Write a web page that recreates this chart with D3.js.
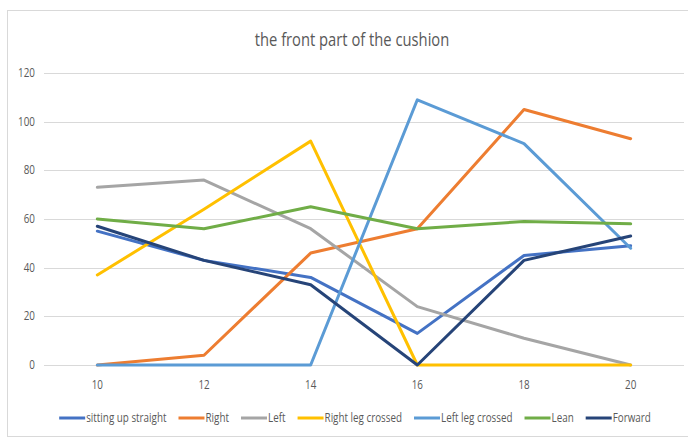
<!DOCTYPE html>
<html>
<head>
<meta charset="utf-8">
<script src="https://cdn.jsdelivr.net/npm/d3@7"></script>
<style>
  body { margin: 0; background: #fff; }
  svg text { font-family: "Open Sans", sans-serif; fill: #595959; }
</style>
</head>
<body>
<div id="chart"></div>
<script>
const categories = ['10', '12', '14', '16', '18', '20']
const yTicks = [0, 20, 40, 60, 80, 100, 120]
const seriesNames = ['sitting up straight', 'Right', 'Left', 'Right leg crossed', 'Left leg crossed', 'Lean', 'Forward']
const sittingUpStraight = [55, 43, 36, 13, 45, 49]
const right = [0, 4, 46, 56, 105, 93]
const left = [73, 76, 56, 24, 11, 0]
const rightLegCrossed = [37, 64, 92, 0, 0, 0]
const leftLegCrossed = [0, 0, 0, 109, 91, 48]
const lean = [60, 56, 65, 56, 59, 58]
const forward = [57, 43, 33, 0, 43, 53]
const colors = ['#4472c4', '#ed7d31', '#a5a5a5', '#ffc000', '#5b9bd5', '#70ad47', '#264478']

const width = 688
const height = 441
const squeeze = 0.82 // narrow the font to look like Calibri
const series = [sittingUpStraight, right, left, rightLegCrossed, leftLegCrossed, lean, forward]
  .map((values, i) => ({ name: seriesNames[i], values, color: colors[i] }))

const svg = d3.select('#chart')
  .append('svg')
  .attr('width', width)
  .attr('height', height)

// chart frame
svg.append('rect')
  .attr('x', 7.5).attr('y', 10.5)
  .attr('width', 700).attr('height', 426)
  .attr('fill', '#fff')
  .attr('stroke', '#d9d9d9')

svg.append('text')
  .attr('transform', `translate(352,46) scale(${squeeze},1)`)
  .attr('text-anchor', 'middle')
  .style('font-size', '18px')
  .text('the front part of the cushion')

const x = d3.scaleBand().domain(categories).range([44, 684])
const y = d3.scaleLinear().domain([0, 120]).range([365, 73])

// gridlines
svg.append('g')
  .selectAll('line')
  .data(yTicks)
  .enter()
  .append('line')
  .attr('x1', 44).attr('x2', 684)
  .attr('y1', d => Math.round(y(d)) + 0.5)
  .attr('y2', d => Math.round(y(d)) + 0.5)
  .attr('stroke', '#d9d9d9')

svg.append('g')
  .selectAll('text')
  .data(yTicks)
  .enter()
  .append('text')
  .attr('transform', d => `translate(35,${y(d) + 4}) scale(${squeeze},1)`)
  .attr('text-anchor', 'end')
  .style('font-size', '12px')
  .text(d => d)

svg.append('g')
  .selectAll('text')
  .data(categories)
  .enter()
  .append('text')
  .attr('transform', d => `translate(${x(d) + x.bandwidth() / 2},389) scale(${squeeze},1)`)
  .attr('text-anchor', 'middle')
  .style('font-size', '12px')
  .text(d => d)

const line = d3.line()
  .x((d, i) => x(categories[i]) + x.bandwidth() / 2)
  .y(d => y(d))

svg.append('g')
  .selectAll('path')
  .data(series)
  .enter()
  .append('path')
  .attr('d', d => line(d.values))
  .attr('fill', 'none')
  .attr('stroke', d => d.color)
  .attr('stroke-width', 3)
  .attr('stroke-linejoin', 'round')
  .attr('stroke-linecap', 'round')

// legend
const legend = svg.append('g')
const items = legend.selectAll('g')
  .data(series)
  .enter()
  .append('g')
items.append('line')
  .attr('x1', 0).attr('x2', 26)
  .attr('y1', 0).attr('y2', 0)
  .attr('stroke', d => d.color)
  .attr('stroke-width', 3)
items.append('text')
  .attr('transform', `translate(27,4) scale(${squeeze},1)`)
  .style('font-size', '12px')
  .text(d => d.name)

const gap = 12
const widths = items.nodes().map(n => n.getBBox().width)
const total = d3.sum(widths) + gap * (series.length - 1)
let offset = 355 - total / 2
items.attr('transform', (d, i) => {
  const t = `translate(${offset},418)`
  offset += widths[i] + gap
  return t
})
</script>
</body>
</html>
